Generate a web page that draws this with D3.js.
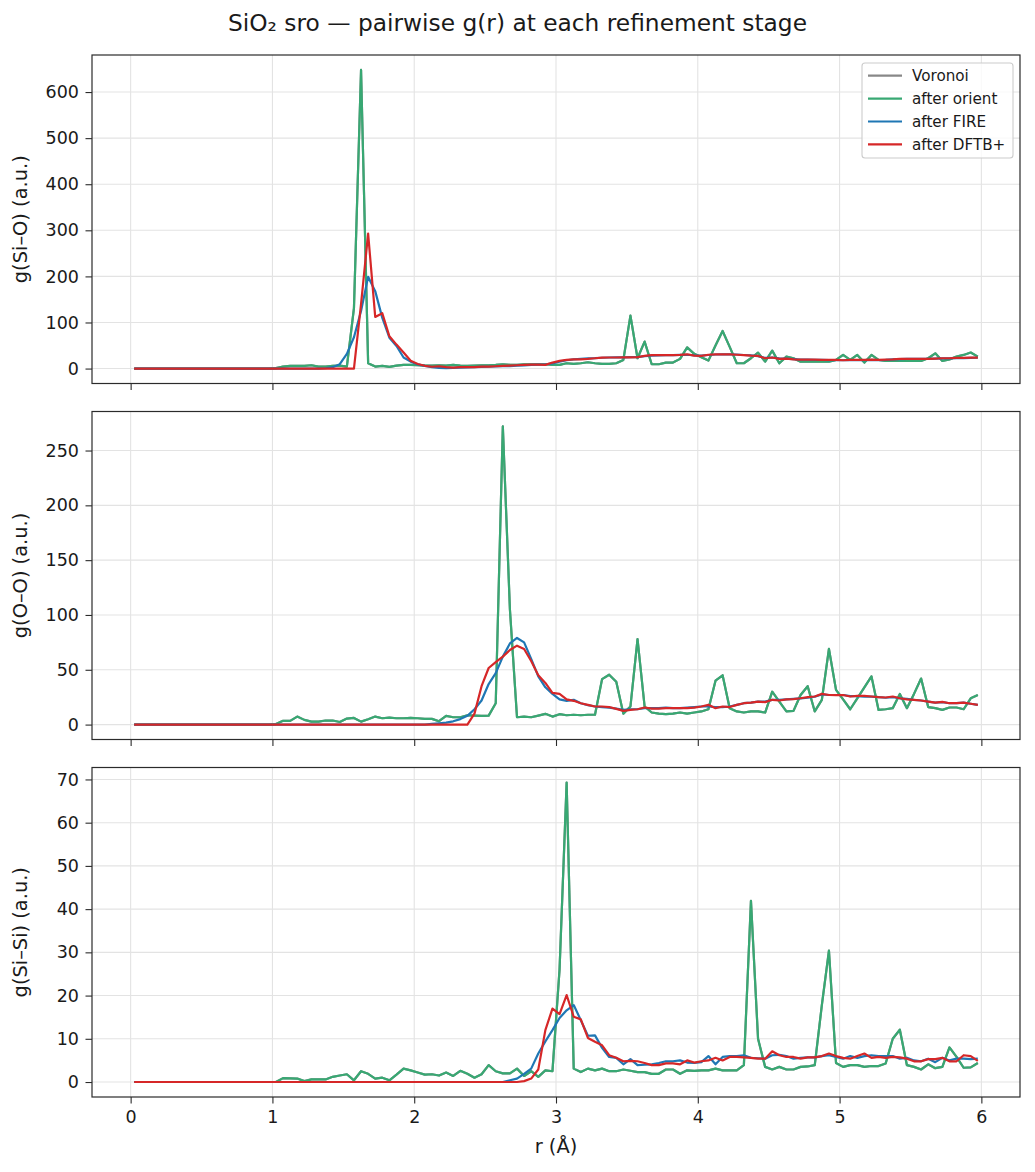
<!DOCTYPE html>
<html>
<head>
<meta charset="utf-8">
<script src="https://cdn.jsdelivr.net/npm/d3@7"></script>
<style>
  body { margin: 0; background: #fff; }
  svg { display: block; font-family: "DejaVu Sans", sans-serif; }
</style>
</head>
<body>
<svg id="chart" width="1035" height="1172"></svg>
<script>
// ---------------- data ----------------
const r = [0.025,0.075,0.125,0.175,0.225,0.275,0.325,0.375,0.425,0.475,0.525,0.575,0.625,0.675,0.725,0.775,0.825,0.875,0.925,0.975,
1.025,1.075,1.125,1.175,1.225,1.275,1.325,1.375,1.425,1.475,1.525,1.575,1.625,1.675,1.725,1.775,1.825,1.875,1.925,1.975,
2.025,2.075,2.125,2.175,2.225,2.275,2.325,2.375,2.425,2.475,2.525,2.575,2.625,2.675,2.725,2.775,2.825,2.875,2.925,2.975,
3.025,3.075,3.125,3.175,3.225,3.275,3.325,3.375,3.425,3.475,3.525,3.575,3.625,3.675,3.725,3.775,3.825,3.875,3.925,3.975,
4.025,4.075,4.125,4.175,4.225,4.275,4.325,4.375,4.425,4.475,4.525,4.575,4.625,4.675,4.725,4.775,4.825,4.875,4.925,4.975,
5.025,5.075,5.125,5.175,5.225,5.275,5.325,5.375,5.425,5.475,5.525,5.575,5.625,5.675,5.725,5.775,5.825,5.875,5.925,5.975];

const stages = ["Voronoi", "after orient", "after FIRE", "after DFTB+"];
const stageColors = ["#888888", "#38a873", "#1f77b4", "#d62728"];

// g(Si–O)
const sioOrient = [0,0,0,0,0,0,0,0,0,0,0,0,0,0,0,0,0,0,0,0,
1,4.3,5.8,5.8,5.8,7.2,4.3,4.3,5.8,6.5,4.3,131,648,11.7,4.3,5.8,3.6,6.5,8,8,
7.2,6.5,6.5,7.2,6.5,8,6.5,6,6.5,7.2,7.2,8,9.4,8,8,9.4,9.4,9.4,9.4,8,
8,11.5,10,11.5,13.7,11.5,10,10,11.5,18.8,115,22.4,58.5,9.4,9.4,13,13,21,46,32,
24.5,17.3,50,81.6,47,11.5,11.5,22.4,34.7,15,39,11.5,26,22.4,15,15,15,15,15,18.8,
29.6,18.8,29.6,13,29.6,18.8,16.6,16.6,16.6,16.6,16.6,16.6,22.4,33,16.6,20,26,29.6,34.7,26];
const sioVoronoi = sioOrient.slice();
const sioFire = [0,0,0,0,0,0,0,0,0,0,0,0,0,0,0,0,0,0,0,0,
0,0,0,0,0,0,0,0.7,3,9.4,32,68,125,199,168,110,67,49,24,15,
9,5.8,3,1.5,1,1.5,2,2.5,3,3.5,4,4.5,5.5,5,6.5,7,8,8.5,9,11,
15,18,20,21,22,22.5,23.5,24,24.5,24.5,25,25,27,28,28.5,29,29,29.5,30,28.5,
28,29.5,30.5,31,31,30.5,29.5,28.5,27,23,24,22,21.5,20.5,19.5,19.5,19,18.8,18.5,18.5,
18,18.5,18.5,18.5,19,18.5,19,20,20.5,21,21,21,21,21.5,22,22,22.5,22.5,23,23.5];
const sioDftb = [0,0,0,0,0,0,0,0,0,0,0,0,0,0,0,0,0,0,0,0,
0,0,0,0,0,0,0,0,0,0,0,0,140,293,112,120,70,52,35,17,
10,6,4,5,3,2.2,3,3,3,4.3,4.3,5,5.8,6.5,7.2,8,8.7,8.7,8,13,
16.6,18.8,20,20,21,22.4,23.8,24,24,24.5,24.5,25,27.4,29,29,29,29,29.6,31,28,
27.4,30,31,31,31,30,29,28,27.4,22.4,24,21,21.5,20,19.5,19.5,19.5,18.8,18.8,18.8,
18,18.8,18.8,18.8,19.5,18.8,19.5,20,21,21,21,21,21,21.7,22.4,22.4,23,23,23.8,23.8];

// g(O–O)
const ooOrient = [0,0,0,0,0,0,0,0,0,0,0,0,0,0,0,0,0,0,0,0,
0.5,3.4,3.4,7.3,4.3,2.7,2.7,3.7,3.7,2.4,5.5,6.1,2.7,4.9,7.3,5.8,6.4,5.8,5.8,6.1,
5.8,5.2,5.2,3.1,8,6.7,6.7,8.5,8.2,7.9,8.2,19.5,272,105,6.7,7.3,6.7,8.2,9.8,7.3,
9.5,8.5,9,8.5,9,9,41.5,45.5,39,10,16.5,78,16.5,11,10,9.5,10,11,10,11,
12,14,40,45,15,12,11,12,12,11,30,21,12,12.5,27,35,12,22.6,69,31.7,
23,14,24,34,44,13.4,14,15,28,15,28,42,16,15,13.4,15.6,15.6,14,24,27];
const ooVoronoi = ooOrient.slice();
const ooFire = [0,0,0,0,0,0,0,0,0,0,0,0,0,0,0,0,0,0,0,0,
0,0,0,0,0,0,0,0,0,0,0,0,0,0,0,0,0,0,0,0,
0,0,0.6,1.2,1.8,3,5,8,14,22,37,47,62,74,79,75,60,44,34,28,
23,21.7,22.6,19.5,17.7,16.5,16,15.5,14.5,13.5,14,14,15,15,15,15.5,15,15,15.5,16,
16.5,16.5,16,16,16.5,18,19.5,20,21,21,22.5,22.5,23,23.5,24,24.5,25.5,27.5,27,27,
27,26,26,25.5,25.5,25,24.5,25,24,23.5,22.5,22,21,20,20.5,19.5,19.5,20,19,18];
const ooDftb = [0,0,0,0,0,0,0,0,0,0,0,0,0,0,0,0,0,0,0,0,
0,0,0,0,0,0,0,0,0,0,0,0,0,0,0,0,0,0,0,0,
0,0,0,0,0,0,0,0,10,35,51.6,57,62,68,72,69,58,45,38,29,
28,23,21.7,19.5,18,16.5,16.5,16,14.3,12.5,13.4,14,15.6,14.5,14.5,15,15,15,15,15.5,
16.5,18,15,16.5,16,18,19.5,20,21,20.5,22.6,22,23,23.3,24,25,25.6,28,27,26.8,
27,25.6,26.2,26.2,25.6,25,24.7,25.6,24,23,22.6,22,21,20,20.7,19.5,19.5,20,19,18];

// g(Si–Si)
const sisiOrient = [0,0,0,0,0,0,0,0,0,0,0,0,0,0,0,0,0,0,0,0,
0,0.9,0.85,0.8,0.2,0.6,0.6,0.6,1.2,1.5,1.8,0.4,2.5,1.9,0.8,1.0,0.4,1.7,3.1,2.7,
2.2,1.7,1.8,1.5,2.2,1.4,2.6,1.9,1.0,1.8,3.9,2.5,2.0,2.0,3.1,1.4,2.5,1.2,2.7,2.5,
26,69.3,3.1,2.3,3.1,2.7,3.1,2.5,2.5,2.9,2.6,2.3,2.3,1.9,1.9,2.9,2.9,1.9,2.7,2.6,
2.7,2.7,3.1,2.7,2.7,2.7,3.9,41.9,10,3.5,2.9,3.5,2.9,2.9,3.5,3.6,3.9,17.8,30.4,4.4,
3.5,3.9,3.9,3.5,3.7,3.7,4.3,10,12.1,3.9,3.5,2.9,4.1,3.2,3.5,8,5.8,3.3,3.4,4.4];
const sisiVoronoi = sisiOrient.slice();
const sisiFire = [0,0,0,0,0,0,0,0,0,0,0,0,0,0,0,0,0,0,0,0,
0,0,0,0,0,0,0,0,0,0,0,0,0,0,0,0,0,0,0,0,
0,0,0,0,0,0,0,0,0,0,0,0,0,0.4,0.8,1.9,3.1,6.6,9.4,12,
14.8,16.6,17.8,14.3,10.7,10.8,7.9,5.8,5.6,4.1,5.3,3.9,4.0,4.1,4.4,4.8,4.8,5.0,4.5,4.4,
4.6,6.0,4.1,5.8,6.0,6.0,6.2,5.6,5.5,5.4,6.2,6.3,6.0,5.4,5.6,5.7,5.7,6.0,6.2,5.8,
5.4,6.0,5.6,6.0,6.2,6.0,6.0,6.0,5.4,5.6,5.0,4.8,5.4,4.6,5.6,5.0,5.4,5.4,5.3,5.4];
const sisiDftb = [0,0,0,0,0,0,0,0,0,0,0,0,0,0,0,0,0,0,0,0,
0,0,0,0,0,0,0,0,0,0,0,0,0,0,0,0,0,0,0,0,
0,0,0,0,0,0,0,0,0,0,0,0,0,0,0,0.2,0.8,2.9,12,17,
15.7,20.1,15.1,14.5,10.2,9.3,8.5,6.2,5.6,4.8,4.9,4.8,4.4,3.9,3.9,4.3,4.3,4.1,5.0,4.5,
4.8,5.0,5.6,5.0,5.8,5.8,5.7,5.6,5.4,5.4,7.1,6.2,5.8,5.8,5.4,5.7,5.7,6.0,6.6,6.0,
5.6,5.4,6.0,6.6,5.6,5.8,5.6,5.8,5.7,5.4,4.8,4.8,5.3,5.3,5.6,4.8,4.8,6.2,6.0,4.9];

const panelLabels = ["g(Si–O) (a.u.)", "g(O–O) (a.u.)", "g(Si–Si) (a.u.)"];
const panelSeries = [
  [sioVoronoi, sioOrient, sioFire, sioDftb],
  [ooVoronoi, ooOrient, ooFire, ooDftb],
  [sisiVoronoi, sisiOrient, sisiFire, sisiDftb]
];
const panelTicks = [
  [0,100,200,300,400,500,600],
  [0,50,100,150,200,250],
  [0,10,20,30,40,50,60,70]
];
const xTicks = [0,1,2,3,4,5,6];
const titleText = "SiO₂ sro — pairwise g(r) at each refinement stage";
const xLabel = "r (Å)";

// ---------------- layout ----------------
const W = 1035, H = 1172;
const left = 92, right = 1020;
const panelBoxes = [[55, 383.5], [411.5, 739.5], [767.5, 1097]];
const axisColor = "#2b2b2b";
const textColor = "#1a1a1a";
const gridColor = "#e3e3e3";
const tickLen = 6.5;
const tickFont = 17.5;

const svg = d3.select("#chart");

// x scale with matplotlib-like 5% margins
const rMin = d3.min(r), rMax = d3.max(r);
const rPad = (rMax - rMin) * 0.05;
const x = d3.scaleLinear().domain([rMin - rPad, rMax + rPad]).range([left, right]);

svg.append("text")
  .attr("x", W / 2)
  .attr("y", 31)
  .attr("text-anchor", "middle")
  .attr("font-size", 23.3)
  .attr("fill", textColor)
  .text(titleText);

panelSeries.forEach((series, pi) => {
  const [top, bottom] = panelBoxes[pi];
  const all = series.flat();
  const vMin = d3.min(all), vMax = d3.max(all);
  const vPad = (vMax - vMin) * 0.05;
  const y = d3.scaleLinear().domain([vMin - vPad, vMax + vPad]).range([bottom, top]);

  const g = svg.append("g");
  const clipId = "clip" + pi;
  svg.append("clipPath").attr("id", clipId)
    .append("rect").attr("x", left).attr("y", top).attr("width", right - left).attr("height", bottom - top);

  // grid
  const grid = g.append("g");
  grid.selectAll("line.gx").data(xTicks).join("line")
    .attr("x1", d => x(d)).attr("x2", d => x(d))
    .attr("y1", top).attr("y2", bottom)
    .attr("stroke", gridColor).attr("stroke-width", 1.1);
  grid.selectAll("line.gy").data(panelTicks[pi]).join("line")
    .attr("x1", left).attr("x2", right)
    .attr("y1", d => y(d)).attr("y2", d => y(d))
    .attr("stroke", gridColor).attr("stroke-width", 1.1);

  // lines
  const line = d3.line().x((d, i) => x(r[i])).y(d => y(d));
  const lg = g.append("g").attr("clip-path", `url(#${clipId})`);
  series.forEach((s, si) => {
    lg.append("path")
      .datum(s)
      .attr("d", line)
      .attr("fill", "none")
      .attr("stroke", stageColors[si])
      .attr("stroke-width", 2.2)
      .attr("stroke-linejoin", "round")
      .attr("stroke-linecap", "butt");
  });

  // y axis
  const yAxis = d3.axisLeft(y).tickValues(panelTicks[pi]).tickSize(tickLen).tickPadding(6.5).tickFormat(d3.format("d"));
  const ya = g.append("g").attr("transform", `translate(${left},0)`).call(yAxis);
  ya.select(".domain").remove();
  ya.selectAll(".tick line").attr("stroke", axisColor).attr("stroke-width", 1.1);
  ya.selectAll(".tick text").attr("font-size", tickFont).attr("fill", textColor)
    .attr("font-family", "DejaVu Sans, sans-serif");

  // x axis
  const xAxis = d3.axisBottom(x).tickValues(xTicks).tickSize(tickLen).tickPadding(7).tickFormat(d3.format("d"));
  const xa = g.append("g").attr("transform", `translate(0,${bottom})`).call(xAxis);
  xa.select(".domain").remove();
  xa.selectAll(".tick line").attr("stroke", axisColor).attr("stroke-width", 1.1);
  xa.selectAll(".tick text").attr("font-size", tickFont).attr("fill", textColor)
    .attr("font-family", "DejaVu Sans, sans-serif");
  if (pi < 2) xa.selectAll(".tick text").remove();

  // frame
  g.append("rect")
    .attr("x", left).attr("y", top)
    .attr("width", right - left).attr("height", bottom - top)
    .attr("fill", "none").attr("stroke", axisColor).attr("stroke-width", 1.2);

  // y label
  const cy = (top + bottom) / 2;
  g.append("text")
    .attr("transform", `translate(27,${cy}) rotate(-90)`)
    .attr("text-anchor", "middle")
    .attr("font-size", 19.4)
    .attr("fill", textColor)
    .text(panelLabels[pi]);

  // legend in first panel
  if (pi === 0) {
    const lgX = 862, lgY = 63, lgW = 151, lgH = 95;
    const leg = g.append("g");
    leg.append("rect")
      .attr("x", lgX).attr("y", lgY).attr("width", lgW).attr("height", lgH)
      .attr("rx", 3).attr("ry", 3)
      .attr("fill", "#ffffff").attr("fill-opacity", 0.8)
      .attr("stroke", "#cccccc").attr("stroke-width", 1.1);
    stages.forEach((name, si) => {
      const cyRow = 75.7 + si * 22.9;
      leg.append("line")
        .attr("x1", 868).attr("x2", 902)
        .attr("y1", cyRow).attr("y2", cyRow)
        .attr("stroke", stageColors[si]).attr("stroke-width", 2.2);
      leg.append("text")
        .attr("x", 912).attr("y", cyRow)
        .attr("dy", "0.35em")
        .attr("font-size", 15.2)
        .attr("fill", textColor)
        .text(name);
    });
  }
});

// x label
svg.append("text")
  .attr("x", (left + right) / 2)
  .attr("y", 1153)
  .attr("text-anchor", "middle")
  .attr("font-size", 19.4)
  .attr("fill", textColor)
  .text(xLabel);
</script>
</body>
</html>
